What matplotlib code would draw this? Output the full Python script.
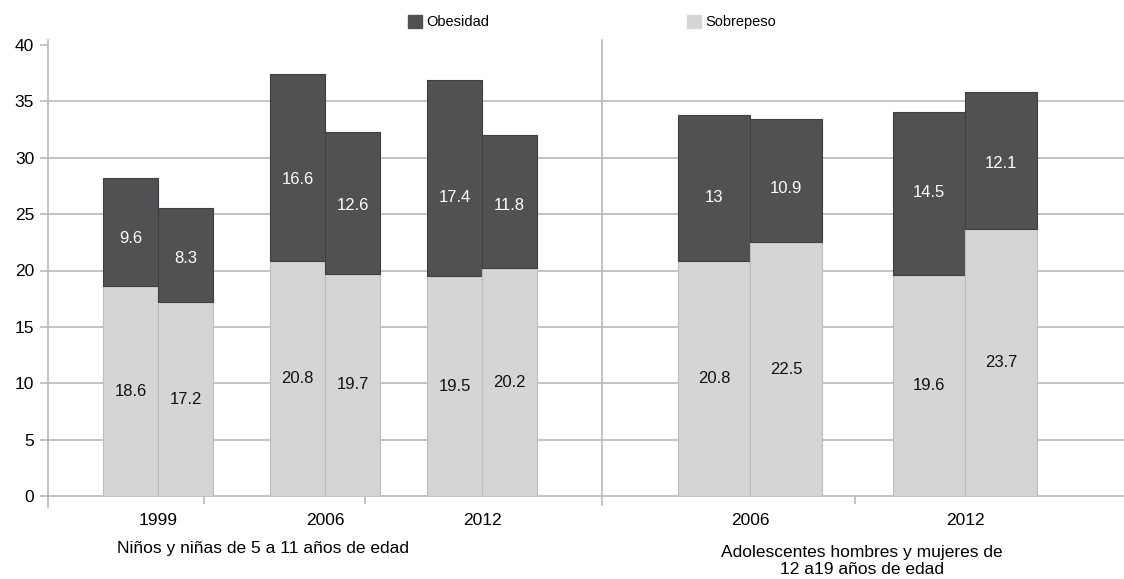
import matplotlib.pyplot as plt
import matplotlib.transforms as mtransforms

plt.rcParams['font.family'] = ['Liberation Sans', 'DejaVu Sans']

# data
years = ['1999', '2006', '2012', '2006', '2012']
groups = ['Niños y niñas de 5 a 11 años de edad',
          'Adolescentes hombres y mujeres de\n12 a19 años de edad']
sobrepeso = [[18.6, 17.2], [20.8, 19.7], [19.5, 20.2], [20.8, 22.5], [19.6, 23.7]]
obesidad = [[9.6, 8.3], [16.6, 12.6], [17.4, 11.8], [13.0, 10.9], [14.5, 12.1]]

# layout (x units = pixels from the y axis)
centers = [110, 277, 434, 702, 917]
widths = [55, 55, 55, 72, 72]
separator = 554
minor_ticks = [156, 317, 807]
group_x = [215, 814]
# downward nudge of the obesidad labels, in pixels
label_nudge = [[6, 3], [12, 3], [19, 4], [9, 8], [-1, 3]]
px_per_unit = 451 / 40

c_obe = '#515153'
c_sob = '#d4d5d7'
grid_c = '#b9b9b9'

fig = plt.figure(figsize=(11.24, 5.79), dpi=100)
ax = fig.add_axes([48 / 1124, 83 / 579, 1076 / 1124, 451 / 579])

for i, c in enumerate(centers):
    w = widths[i]
    for j in range(2):
        x = c - w / 2 + j * w
        s = sobrepeso[i][j]
        o = obesidad[i][j]
        ax.bar(x, s, width=w, color=c_sob, edgecolor='#bdbdbd', linewidth=0.8, zorder=3)
        ax.bar(x, o, bottom=s, width=w, color=c_obe, edgecolor='#3f3f41', linewidth=0.8, zorder=3)
        ax.text(x, s / 2, f'{s:g}', ha='center', va='center', fontsize=12, color='#111111', zorder=4)
        ax.text(x, s + o / 2 - label_nudge[i][j] / px_per_unit, f'{o:g}', ha='center',
                va='center', fontsize=12, color='white', zorder=4)

ax.set_xlim(0, 1076)
ax.set_ylim(0, 40)
ax.set_yticks(range(0, 41, 5))
for y in range(5, 40, 5):
    ax.axhline(y, color=grid_c, linewidth=1.2, zorder=1)

ax.set_xticks(centers)
ax.set_xticklabels(years, fontsize=12.5)
ax.tick_params(axis='x', which='major', length=0, pad=12)
ax.set_xticks(minor_ticks, minor=True)
ax.tick_params(axis='x', which='minor', length=6, color=grid_c, width=1.2)
ax.tick_params(axis='y', length=6, color=grid_c, width=1.2, labelsize=12.5, pad=4)

for side in ['top', 'right']:
    ax.spines[side].set_visible(False)
for side in ['left', 'bottom']:
    ax.spines[side].set_color(grid_c)
    ax.spines[side].set_linewidth(1.2)
ax.spines['left'].set_bounds(0, 40.4)

ax.plot([separator, separator], [-0.02, 1.012], color=grid_c, linewidth=1.2,
        transform=mtransforms.blended_transform_factory(ax.transData, ax.transAxes),
        clip_on=False, zorder=2)
ax.plot([0, 0], [-0.025, 0], color=grid_c, linewidth=1.2,
        transform=ax.transAxes, clip_on=False)

trans = mtransforms.blended_transform_factory(ax.transData, ax.transAxes)
ax.text(group_x[0], -0.117, groups[0], transform=trans, ha='center', va='center', fontsize=12.5)
ax.text(group_x[1], -0.144, groups[1], transform=trans, ha='center', va='center',
        fontsize=12.5, linespacing=1.15)

h1 = plt.Rectangle((0, 0), 1, 1, color=c_obe)
h2 = plt.Rectangle((0, 0), 1, 1, color=c_sob)
fig.legend([h1, h2], ['Obesidad', 'Sobrepeso'], loc='center', bbox_to_anchor=(592 / 1124, 1 - 22 / 579),
           ncol=2, frameon=False, fontsize=10.5, handlelength=1.0, handleheight=1.0,
           handletextpad=0.3, columnspacing=13.5)

fig.savefig('out.png', dpi=100)
